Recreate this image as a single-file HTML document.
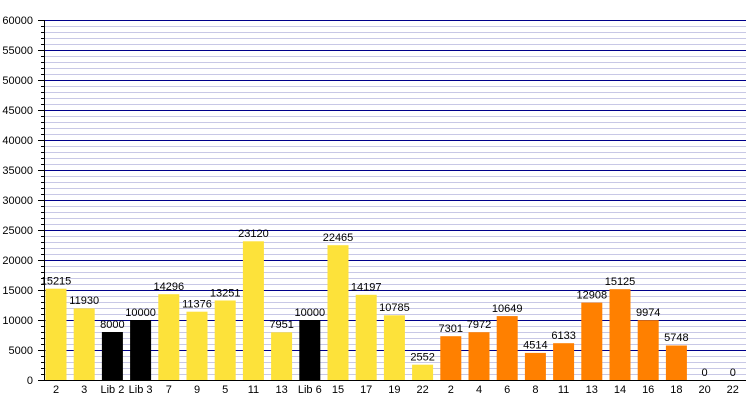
<!DOCTYPE html><html><head><style>body{margin:0;background:#fff}svg{display:block;font-family:"Liberation Sans",sans-serif;font-size:11px}</style></head><body>
<svg width="750" height="400" xmlns="http://www.w3.org/2000/svg">
<defs><pattern id="g" x="0" y="20" width="10" height="6" patternUnits="userSpaceOnUse"><line x1="0" y1="0.5" x2="10" y2="0.5" stroke="#c8c8e6" stroke-width="1"/></pattern></defs>
<rect x="45" y="20" width="701" height="360" fill="url(#g)"/>
<g stroke="#00008b" stroke-width="1">
<line x1="45" x2="746" y1="20.5" y2="20.5"/><line x1="45" x2="746" y1="50.5" y2="50.5"/><line x1="45" x2="746" y1="80.5" y2="80.5"/><line x1="45" x2="746" y1="110.5" y2="110.5"/><line x1="45" x2="746" y1="140.5" y2="140.5"/><line x1="45" x2="746" y1="170.5" y2="170.5"/><line x1="45" x2="746" y1="200.5" y2="200.5"/><line x1="45" x2="746" y1="230.5" y2="230.5"/><line x1="45" x2="746" y1="260.5" y2="260.5"/><line x1="45" x2="746" y1="290.5" y2="290.5"/><line x1="45" x2="746" y1="320.5" y2="320.5"/><line x1="45" x2="746" y1="350.5" y2="350.5"/>
</g>
<defs><pattern id="t" x="0" y="20" width="4" height="6" patternUnits="userSpaceOnUse"><line x1="0" y1="0.5" x2="4" y2="0.5" stroke="#000"/></pattern></defs>
<rect x="41" y="20" width="4" height="361" fill="url(#t)"/>
<g stroke="#000"><line x1="38" x2="45" y1="20.5" y2="20.5"/><line x1="38" x2="45" y1="50.5" y2="50.5"/><line x1="38" x2="45" y1="80.5" y2="80.5"/><line x1="38" x2="45" y1="110.5" y2="110.5"/><line x1="38" x2="45" y1="140.5" y2="140.5"/><line x1="38" x2="45" y1="170.5" y2="170.5"/><line x1="38" x2="45" y1="200.5" y2="200.5"/><line x1="38" x2="45" y1="230.5" y2="230.5"/><line x1="38" x2="45" y1="260.5" y2="260.5"/><line x1="38" x2="45" y1="290.5" y2="290.5"/><line x1="38" x2="45" y1="320.5" y2="320.5"/><line x1="38" x2="45" y1="350.5" y2="350.5"/><line x1="38" x2="45" y1="380.5" y2="380.5"/>
<line x1="44.5" x2="44.5" y1="20" y2="381"/><line x1="44" x2="746" y1="380.5" y2="380.5"/></g>
<g text-anchor="end" fill="#000"><text x="33" y="24">60000</text><text x="33" y="54">55000</text><text x="33" y="84">50000</text><text x="33" y="114">45000</text><text x="33" y="144">40000</text><text x="33" y="174">35000</text><text x="33" y="204">30000</text><text x="33" y="234">25000</text><text x="33" y="264">20000</text><text x="33" y="294">15000</text><text x="33" y="324">10000</text><text x="33" y="354">5000</text><text x="33" y="384">0</text></g>
<g fill="#fde23a">
<rect x="45.5" y="288.7" width="21" height="91.3"/><rect x="73.7" y="308.4" width="21" height="71.6"/>
<rect x="158.3" y="294.2" width="21" height="85.8"/><rect x="186.5" y="311.7" width="21" height="68.3"/><rect x="214.7" y="300.5" width="21" height="79.5"/><rect x="242.9" y="241.3" width="21" height="138.7"/><rect x="271.1" y="332.3" width="21" height="47.7"/>
<rect x="327.5" y="245.2" width="21" height="134.8"/><rect x="355.7" y="294.8" width="21" height="85.2"/><rect x="383.9" y="315.3" width="21" height="64.7"/><rect x="412.1" y="364.7" width="21" height="15.3"/></g>
<g fill="#000"><rect x="101.9" y="332" width="21" height="48"/><rect x="130.1" y="320" width="21" height="60"/><rect x="299.3" y="320" width="21" height="60"/></g>
<g fill="#ff8000">
<rect x="440.3" y="336.2" width="21" height="43.8"/><rect x="468.5" y="332.2" width="21" height="47.8"/><rect x="496.7" y="316.1" width="21" height="63.9"/><rect x="524.9" y="352.9" width="21" height="27.1"/><rect x="553.1" y="343.2" width="21" height="36.8"/><rect x="581.3" y="302.6" width="21" height="77.4"/><rect x="609.5" y="289.2" width="21" height="90.8"/><rect x="637.7" y="320.2" width="21" height="59.8"/><rect x="665.9" y="345.5" width="21" height="34.5"/></g>
<g text-anchor="middle" fill="#000">
<text x="56" y="284.5">15215</text><text x="84.2" y="304">11930</text><text x="112.4" y="328">8000</text><text x="140.6" y="316">10000</text><text x="168.8" y="290">14296</text><text x="197" y="307.5">11376</text><text x="225.2" y="296.5">13251</text><text x="253.4" y="237">23120</text><text x="281.6" y="328">7951</text><text x="309.8" y="316">10000</text><text x="338" y="241">22465</text><text x="366.2" y="290.5">14197</text><text x="394.4" y="311">10785</text><text x="422.6" y="360.5">2552</text>
<text x="450.8" y="332">7301</text><text x="479" y="328">7972</text><text x="507.2" y="312">10649</text><text x="535.4" y="348.5">4514</text><text x="563.6" y="339">6133</text><text x="591.8" y="298.5">12908</text><text x="620" y="285">15125</text><text x="648.2" y="316">9974</text><text x="676.4" y="341">5748</text><text x="704.6" y="376">0</text><text x="732.8" y="376">0</text>
</g>
<g text-anchor="middle" fill="#000">
<text x="56" y="393">2</text><text x="84.2" y="393">3</text><text x="112.4" y="393">Lib 2</text><text x="140.6" y="393">Lib 3</text><text x="168.8" y="393">7</text><text x="197" y="393">9</text><text x="225.2" y="393">5</text><text x="253.4" y="393">11</text><text x="281.6" y="393">13</text><text x="309.8" y="393">Lib 6</text><text x="338" y="393">15</text><text x="366.2" y="393">17</text><text x="394.4" y="393">19</text><text x="422.6" y="393">22</text><text x="450.8" y="393">2</text><text x="479" y="393">4</text><text x="507.2" y="393">6</text><text x="535.4" y="393">8</text><text x="563.6" y="393">11</text><text x="591.8" y="393">13</text><text x="620" y="393">14</text><text x="648.2" y="393">16</text><text x="676.4" y="393">18</text><text x="704.6" y="393">20</text><text x="732.8" y="393">22</text>
</g>
</svg></body></html>
